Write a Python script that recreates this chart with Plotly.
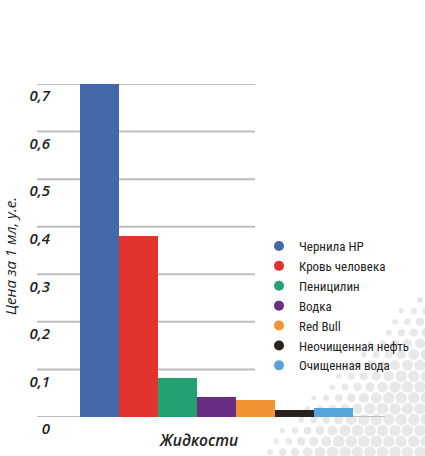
import plotly.graph_objects as go

categories = ["Чернила HP", "Кровь человека", "Пеницилин", "Водка", "Red Bull",
              "Неочищенная нефть", "Очищенная вода"]
prices = [0.70, 0.38, 0.082, 0.042, 0.036, 0.015, 0.019]
colors = ["#4368a9", "#e2342e", "#23a172", "#6b2d83", "#f29233", "#2a221f", "#55a5dc"]
tick_vals = [0, 0.1, 0.2, 0.3, 0.4, 0.5, 0.6, 0.7]
tick_text = ["0", "0,1", "0,2", "0,3", "0,4", "0,5", "0,6", "0,7"]

W, H = 425, 456
L, R, T, B = 37, 0, 84, 39
pw = W - L - R
ph = H - T - B


def px_x(px):
    return (px - L) / pw


def px_y(py):
    return (H - B - py) / ph


fig = go.Figure()
for i, (c, v, col) in enumerate(zip(categories, prices, colors)):
    fig.add_trace(go.Bar(x=[i], y=[v], width=1, marker=dict(color=col, line=dict(width=0)),
                         showlegend=False, name=c))
for c, col in zip(categories, colors):
    fig.add_trace(go.Scatter(x=[None], y=[None], mode="markers", name=c,
                             marker=dict(symbol="circle", size=10, color=col)))

shapes = []
# decorative halftone dots in the lower-right background
step = 12.5
row = 0
py = 300
while py < H + 6:
    offset = (step / 2) if row % 2 else 0
    pxx = 270 + offset
    while pxx < W + 6:
        s = pxx + py
        if s > 710:
            r = min(5.8, 2.4 + (s - 710) / 20)
            shapes.append(dict(type="circle", xref="paper", yref="paper",
                               x0=px_x(pxx - r), x1=px_x(pxx + r),
                               y0=px_y(py + r), y1=px_y(py - r),
                               fillcolor="#e8e8e8", line=dict(width=0), layer="below"))
        pxx += step
    py += step * 0.87
    row += 1

gx1 = px_x(255)
for tv in tick_vals[1:]:
    shapes.append(dict(type="line", xref="paper", yref="y", x0=0, x1=gx1, y0=tv, y1=tv,
                       line=dict(color="#bdbdbd", width=2), layer="below"))
shapes.append(dict(type="line", xref="paper", yref="y", x0=0, x1=px_x(385), y0=0, y1=0,
                   line=dict(color="#bdbdbd", width=2), layer="below"))

fig.update_layout(
    width=W, height=H,
    margin=dict(l=L, r=R, t=T, b=B, pad=0, autoexpand=False),
    paper_bgcolor="white", plot_bgcolor="rgba(0,0,0,0)",
    barmode="overlay", bargap=0,
    shapes=shapes,
    showlegend=True,
    legend=dict(x=px_x(259), y=px_y(231), xanchor="left", yanchor="top",
                font=dict(family="Roboto Condensed, Roboto", size=13, color="#222222"),
                itemwidth=30, bgcolor="rgba(0,0,0,0)", tracegroupgap=0),
    xaxis=dict(range=[-(99.5 - L) / 39, (W - R - 99.5) / 39], showgrid=False, zeroline=False,
               showticklabels=False, showline=False, fixedrange=True),
    yaxis=dict(range=[0, 0.7], showgrid=False, zeroline=False, showline=False,
               tickvals=tick_vals, ticktext=tick_text, ticks="",
               ticklabelshift=12, ticklabelstandoff=-14,
               tickfont=dict(family="Open Sans, sans-serif", size=15, color="#222222",
                             style="italic", weight=600)),
    annotations=[
        dict(text="Цена за 1 мл, у.е.", textangle=-90, xref="paper", yref="paper",
             x=px_x(10), y=px_y(256), xanchor="center", yanchor="middle",
             showarrow=False,
             font=dict(family="Open Sans, sans-serif", size=15, color="#222222",
                       style="italic", weight=500)),
        dict(text="Жидкости", xref="paper", yref="paper",
             x=px_x(198), y=px_y(440), xanchor="center", yanchor="middle",
             showarrow=False,
             font=dict(family="Open Sans, sans-serif", size=15.5, color="#222222",
                       style="italic", weight=600)),
    ],
)

fig.write_html("out.html")
